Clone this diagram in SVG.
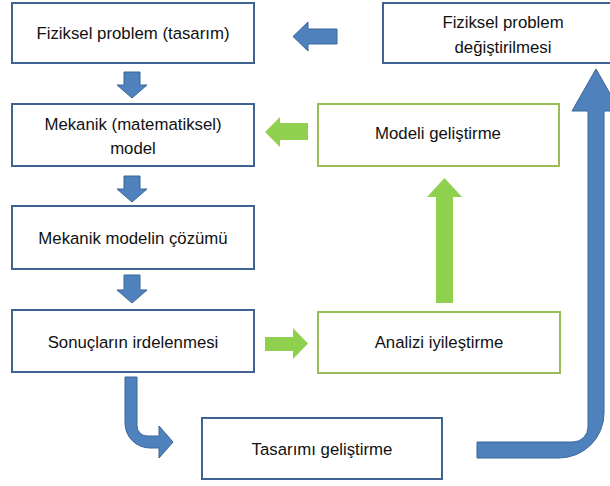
<svg xmlns="http://www.w3.org/2000/svg" width="610" height="486" viewBox="0 0 610 486">
<style>
.bb{fill:#fff;stroke:#3f6290;stroke-width:2}
.gb{fill:#fff;stroke:#9bbb59;stroke-width:2}
.ba{fill:#4f81bd;stroke:#3a6597;stroke-width:1}
.ga{fill:#8fd04f;stroke:none}
text{font-family:"Liberation Sans",Arial,sans-serif;font-size:16.8px;fill:#111;text-anchor:middle}
</style>
<rect width="610" height="486" fill="#fff"/>
<g id="n1"><rect class="bb" x="12" y="3" width="242" height="60"/><text x="133" y="39">Fiziksel problem (tasarım)</text></g>
<g id="n2"><rect class="bb" x="12" y="104" width="242" height="62"/><text x="133" y="130">Mekanik (matematiksel)</text><text x="133" y="154">model</text></g>
<g id="n3"><rect class="bb" x="12" y="206" width="242" height="63"/><text x="133" y="244">Mekanik modelin çözümü</text></g>
<g id="n4"><rect class="bb" x="12" y="310" width="242" height="62"/><text x="133" y="348">Sonuçların irdelenmesi</text></g>
<g id="n5"><rect class="bb" x="202" y="418" width="240" height="61"/><text x="322" y="455">Tasarımı geliştirme</text></g>
<g id="n6"><rect class="bb" x="383" y="3" width="240" height="60"/><text x="503" y="28">Fiziksel problem</text><text x="503" y="53">değiştirilmesi</text></g>
<g id="n7"><rect class="gb" x="318" y="104" width="241" height="62"/><text x="438" y="139">Modeli geliştirme</text></g>
<g id="n8"><rect class="gb" x="318" y="312" width="242" height="61"/><text x="439" y="348">Analizi iyileştirme</text></g>
<g id="connectors">
<path class="ba" d="M124,72 H140 V85 H147 L132,98 L117,85 H124 Z"/>
<path class="ba" d="M124,176 H140 V189 H147 L132,202 L117,189 H124 Z"/>
<path class="ba" d="M124,275 H140 V290 H147 L132,303 L117,290 H124 Z"/>
<path class="ba" d="M337,29 H308 V22 L293,36.5 L308,51 V44 H337 Z"/>
<path class="ba" d="M125,377 H137 V426 A10,10 0 0 0 147,436 H159 V426 L173,442 L159,458 V448 H150 A25,25 0 0 1 125,423 Z"/>
<path class="ba" d="M477,442 H573 A15,15 0 0 0 588,427 V111 H572 L596,69 L620,111 H604 V413 A45,45 0 0 1 559,458 H477 Z"/>
<path class="ga" d="M308,123 H280 V117 L265,132 L280,147 V140 H308 Z"/>
<path class="ga" d="M265,337 H293 V328 L308,343.5 L293,359 V351 H265 Z"/>
<path class="ga" d="M436,303 V197 H427 L444.5,178 L462,197 H453 V303 Z"/>
</g>
</svg>
